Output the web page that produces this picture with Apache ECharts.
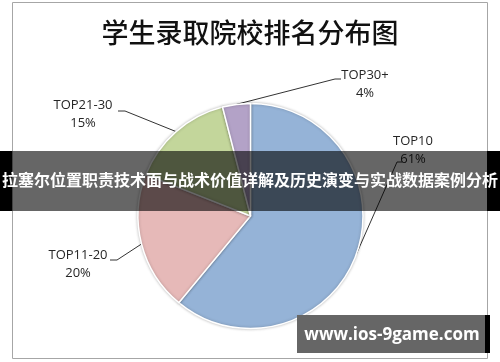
<!DOCTYPE html>
<html>
<head>
<meta charset="utf-8">
<script src="https://cdn.jsdelivr.net/npm/echarts@6/dist/echarts.min.js"></script>
<style>
html,body{margin:0;padding:0;background:#fff;}
#c{width:500px;height:362px;}
</style>
</head>
<body>
<div id="c"></div>
<script>
// ---- data ----
var chartTitle = '学生录取院校排名分布图';
var categories = ['TOP10', 'TOP11-20', 'TOP21-30', 'TOP30+'];
var values = [61, 20, 15, 4];
var bannerText = '拉塞尔位置职责技术面与战术价值详解及历史演变与实战数据案例分析';
var watermarkText = 'www.ios-9game.com';

// ---- styles / layout ----
var colors = ['#95B3D7', '#E6B9B8', '#C3D69B', '#B3A2C7'];
var labelLayoutSpec = [
  { x: 413, y: 150, p1: [397, 162], p2: [402, 162] },
  { x: 78,  y: 264, p1: [117, 260], p2: [110, 260] },
  { x: 83,  y: 114, p1: [125, 111], p2: [118, 111] },
  { x: 365, y: 84,  p1: [335, 79],  p2: [341, 79] }
];
var pieCenter = [250.5, 216];
var pieRadius = 112.5;

var chart = echarts.init(document.getElementById('c'), null, { renderer: 'canvas' });

var option = {
  backgroundColor: '#fff',
  animation: false,
  title: {
    text: chartTitle,
    left: 'center',
    top: 14,
    textStyle: {
      fontFamily: 'Noto Sans CJK SC',
      fontSize: 27,
      fontWeight: 500,
      color: '#111'
    }
  },
  series: [{
    type: 'pie',
    center: pieCenter,
    radius: pieRadius,
    startAngle: 90,
    clockwise: true,
    avoidLabelOverlap: false,
    data: categories.map(function (c, i) {
      return { name: c, value: values[i], itemStyle: { color: colors[i] } };
    }),
    itemStyle: {
      borderColor: '#ffffff',
      borderWidth: 1.5,
      shadowBlur: 3,
      shadowColor: 'rgba(0,0,0,0.25)'
    },
    label: {
      show: true,
      position: 'outside',
      formatter: '{b}\n{d}%',
      fontFamily: 'Open Sans',
      fontSize: 13,
      lineHeight: 18,
      color: '#262626'
    },
    labelLine: {
      show: true,
      length: 20,
      length2: 10,
      lineStyle: { color: '#333', width: 1 }
    },
    labelLayout: function (p) {
      var s = labelLayoutSpec[p.dataIndex];
      var e = (p.labelLinePoints && p.labelLinePoints[0]) ? p.labelLinePoints[0] : s.p1;
      return {
        x: s.x,
        y: s.y,
        align: 'center',
        verticalAlign: 'middle',
        labelLinePoints: [e, s.p1, s.p2]
      };
    }
  }],
  graphic: [
    {
      type: 'rect', z: 1, silent: true,
      shape: { x: 12.5, y: 2.5, width: 475, height: 356 },
      style: { fill: null, stroke: '#a6a6a6', lineWidth: 1 }
    },
    {
      type: 'rect', z: 100, silent: true,
      shape: { x: 12, y: 151, width: 475, height: 60 },
      style: { fill: 'rgba(0,0,0,0.6)' }
    },
    {
      type: 'rect', z: 100, silent: true,
      shape: { x: 0, y: 151, width: 12, height: 60 },
      style: { fill: '#000' }
    },
    {
      type: 'rect', z: 100, silent: true,
      shape: { x: 487, y: 151, width: 13, height: 60 },
      style: { fill: '#000' }
    },
    {
      type: 'text', z: 101, silent: true,
      x: 250, y: 180,
      style: {
        text: bannerText,
        fill: '#fff',
        font: 'bold 16px "Noto Sans CJK SC"',
        align: 'center',
        verticalAlign: 'middle'
      }
    },
    {
      type: 'rect', z: 100, silent: true,
      shape: { x: 297, y: 315, width: 188, height: 38 },
      style: { fill: '#666' }
    },
    {
      type: 'rect', z: 100, silent: true,
      shape: { x: 485, y: 315, width: 5, height: 38 },
      style: { fill: '#000' }
    },
    {
      type: 'text', z: 101, silent: true,
      x: 392, y: 335,
      style: {
        text: watermarkText,
        fill: '#fff',
        font: 'bold 17px "Open Sans"',
        align: 'center',
        verticalAlign: 'middle'
      }
    }
  ]
};
chart.setOption(option);
</script>
</body>
</html>
